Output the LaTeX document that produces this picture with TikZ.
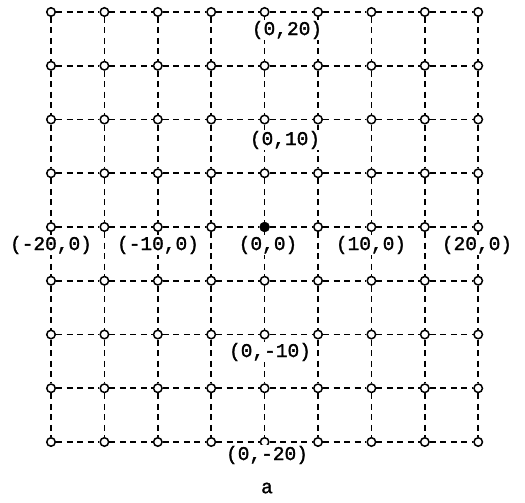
\documentclass[tikz,border=0pt]{standalone}
\usepackage{fontspec}
\newfontfamily\lblfont[FakeBold=1.5]{Liberation Mono}
\begin{document}
\begin{tikzpicture}[x=1pt,y=-1pt,
 pt/.style={circle,draw=black,fill=white,line width=1.5pt,inner sep=0pt,minimum size=8.5pt},
 origin/.style={circle,fill=black,draw=black,inner sep=0pt,minimum size=10pt},
 gridline/.style={line width=1.6pt,dash pattern=on 6pt off 4.5pt},
 lbl/.style={font=\lblfont\fontsize{19.5}{19.5}\selectfont,inner sep=1pt,fill=white}]
\useasboundingbox[fill=white] (0,0) rectangle (525,503);
\foreach \i in {0,...,8}{\foreach \j in {0,...,8}{
  \ifnum\i=4 \ifnum\j=4 \def\st{origin}\else\def\st{pt}\fi\else\def\st{pt}\fi
  \node[\st] (n-\i-\j) at ({51+53.4*\i},{12+53.75*\j}) {};
}}
\foreach \i in {0,...,7}{\pgfmathtruncatemacro\k{\i+1}\foreach \j in {0,...,8}{
  \draw[gridline] (n-\i-\j) -- (n-\k-\j);
  \draw[gridline] (n-\j-\i) -- (n-\j-\k);
}}
\node[lbl] (l020) at (287,30) {(0,20)};
\node[lbl] (l010) at (285,140) {(0,10)};
\node[lbl] (lm20) at (51,245) {(-20,0)};
\node[lbl] (lm10) at (158,245) {(-10,0)};
\node[lbl] (l00) at (268,245) {(0,0)};
\node[lbl] (l100) at (371,245) {(10,0)};
\node[lbl] (l200) at (477,245) {(20,0)};
\node[lbl] (l0m10) at (270,352) {(0,-10)};
\node[lbl] (l0m20) at (267,455) {(0,-20)};
\node[lbl] (cap) at (267,488) {a};
\end{tikzpicture}
\end{document}
